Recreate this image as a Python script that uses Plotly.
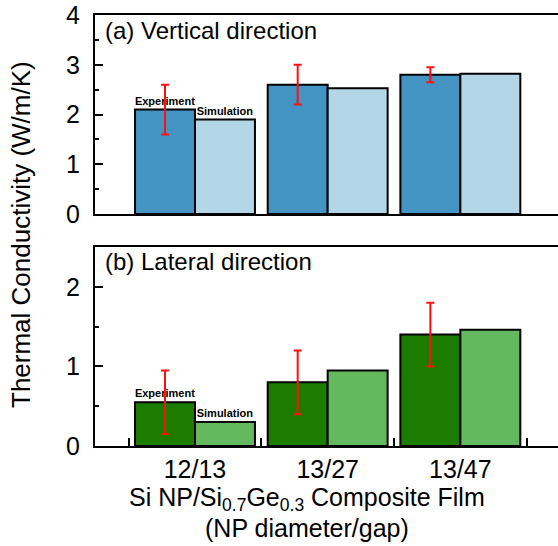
import plotly.graph_objects as go

categories = ["12/13", "13/27", "13/47"]
vert_exp = [2.1, 2.6, 2.8]
vert_exp_err = [0.5, 0.4, 0.15]
vert_sim = [1.9, 2.53, 2.82]
lat_exp = [0.55, 0.8, 1.4]
lat_exp_err = [0.4, 0.4, 0.4]
lat_sim = [0.3, 0.95, 1.46]
exp_labels = ["<b>Experiment</b>", "", ""]
sim_labels = ["<b>Simulation</b>", "", ""]

x_idx = list(range(len(categories)))

FONT = "Liberation Sans, Arial, Helvetica, sans-serif"
W, H = 558, 546
ML, MR, MT = 95, 0, 15
MB = H - 446

fig = go.Figure()

def add_pair(exp, err, sim, c_exp, c_sim, xa, ya):
    fig.add_trace(go.Bar(
        x=x_idx, y=exp, xaxis=xa, yaxis=ya,
        marker=dict(color=c_exp, line=dict(color="black", width=2)),
        error_y=dict(type="data", array=err, color="#ff1010", thickness=2, width=4),
        text=exp_labels, textposition="outside", textangle=0, constraintext="none",
        textfont=dict(family=FONT, size=11, color="black"), cliponaxis=False,
        showlegend=False, name="Experiment"))
    fig.add_trace(go.Bar(
        x=x_idx, y=sim, xaxis=xa, yaxis=ya,
        marker=dict(color=c_sim, line=dict(color="black", width=2)),
        text=sim_labels, textposition="outside", textangle=0, constraintext="none",
        textfont=dict(family=FONT, size=11, color="black"), cliponaxis=False,
        showlegend=False, name="Simulation"))

add_pair(vert_exp, vert_exp_err, vert_sim, "#4393c3", "#b4d7e8", "x", "y")
add_pair(lat_exp, lat_exp_err, lat_sim, "#1c7c00", "#64b95e", "x2", "y2")

xr = [-0.7536, 2.736]
top_dom = [0.538, 1.0]
bot_dom = [0.0, 0.4617]

axis_common = dict(showline=True, linecolor="black", linewidth=2, showgrid=False, zeroline=False)

fig.update_layout(
    width=W, height=H,
    margin=dict(l=ML, r=MR, t=MT, b=MB, autoexpand=False),
    paper_bgcolor="white", plot_bgcolor="white",
    barmode="group", bargap=0.096, bargroupgap=0,
    font=dict(family=FONT, size=25, color="black"),
    xaxis=dict(range=xr, domain=[0, 1], anchor="y", mirror=True, ticks="",
               showticklabels=False, **axis_common),
    yaxis=dict(range=[0, 4], domain=top_dom, anchor="x", tickmode="linear", tick0=0, dtick=1,
               ticks="inside", ticklen=8, tickwidth=2, tickcolor="black",
               minor=dict(ticks="inside", ticklen=4, tickwidth=2, tickcolor="black", dtick=0.5, tick0=0),
               ticklabelstandoff=8, ticklabeloverflow="allow", tickfont=dict(size=25), **axis_common),
    xaxis2=dict(range=xr, domain=[0, 1], anchor="y2", mirror=True, tickmode="array",
                tickvals=x_idx, ticktext=categories, ticks="",
                minor=dict(ticks="inside", ticklen=8, tickwidth=2, tickcolor="black",
                           tick0=0.5, dtick=1),
                ticklabelstandoff=0, tickfont=dict(size=25), **axis_common),
    yaxis2=dict(range=[0, 2.5], domain=bot_dom, anchor="x2", tickmode="linear", tick0=0, dtick=1,
                ticks="inside", ticklen=8, tickwidth=2, tickcolor="black",
                minor=dict(ticks="inside", ticklen=4, tickwidth=2, tickcolor="black", dtick=0.5, tick0=0),
                ticklabelstandoff=8, tickfont=dict(size=25), **axis_common),
)

pw = W - ML - MR
ph = H - MT - MB

def px(xref_px):
    return (xref_px - 95) / pw

def py(yref_px):
    return (446 - yref_px) / ph

fig.add_annotation(text="(a) Vertical direction", xref="x domain", yref="y domain",
                   x=8 / pw, y=0.92, xanchor="left", yanchor="middle", showarrow=False,
                   font=dict(size=24))
fig.add_annotation(text="(b) Lateral direction", xref="x2 domain", yref="y2 domain",
                   x=8 / pw, y=0.925, xanchor="left", yanchor="middle", showarrow=False,
                   font=dict(size=24))
fig.add_annotation(text="Thermal Conductivity (W/m/K)", xref="paper", yref="paper",
                   x=px(21), y=py(235), xanchor="center", yanchor="middle",
                   textangle=-90, showarrow=False, font=dict(size=26))
fig.add_annotation(text="Si NP/Si<sub>0.7</sub>Ge<sub>0.3</sub> Composite Film", xref="paper", yref="paper",
                   x=px(307), y=py(499), xanchor="center", yanchor="middle",
                   showarrow=False, font=dict(size=25))
fig.add_annotation(text="(NP diameter/gap)", xref="paper", yref="paper",
                   x=px(307), y=py(528), xanchor="center", yanchor="middle",
                   showarrow=False, font=dict(size=25))

fig.write_html("out.html", config={"displayModeBar": False},
               post_script="document.body.style.margin='0px';document.body.style.overflow='hidden';")
